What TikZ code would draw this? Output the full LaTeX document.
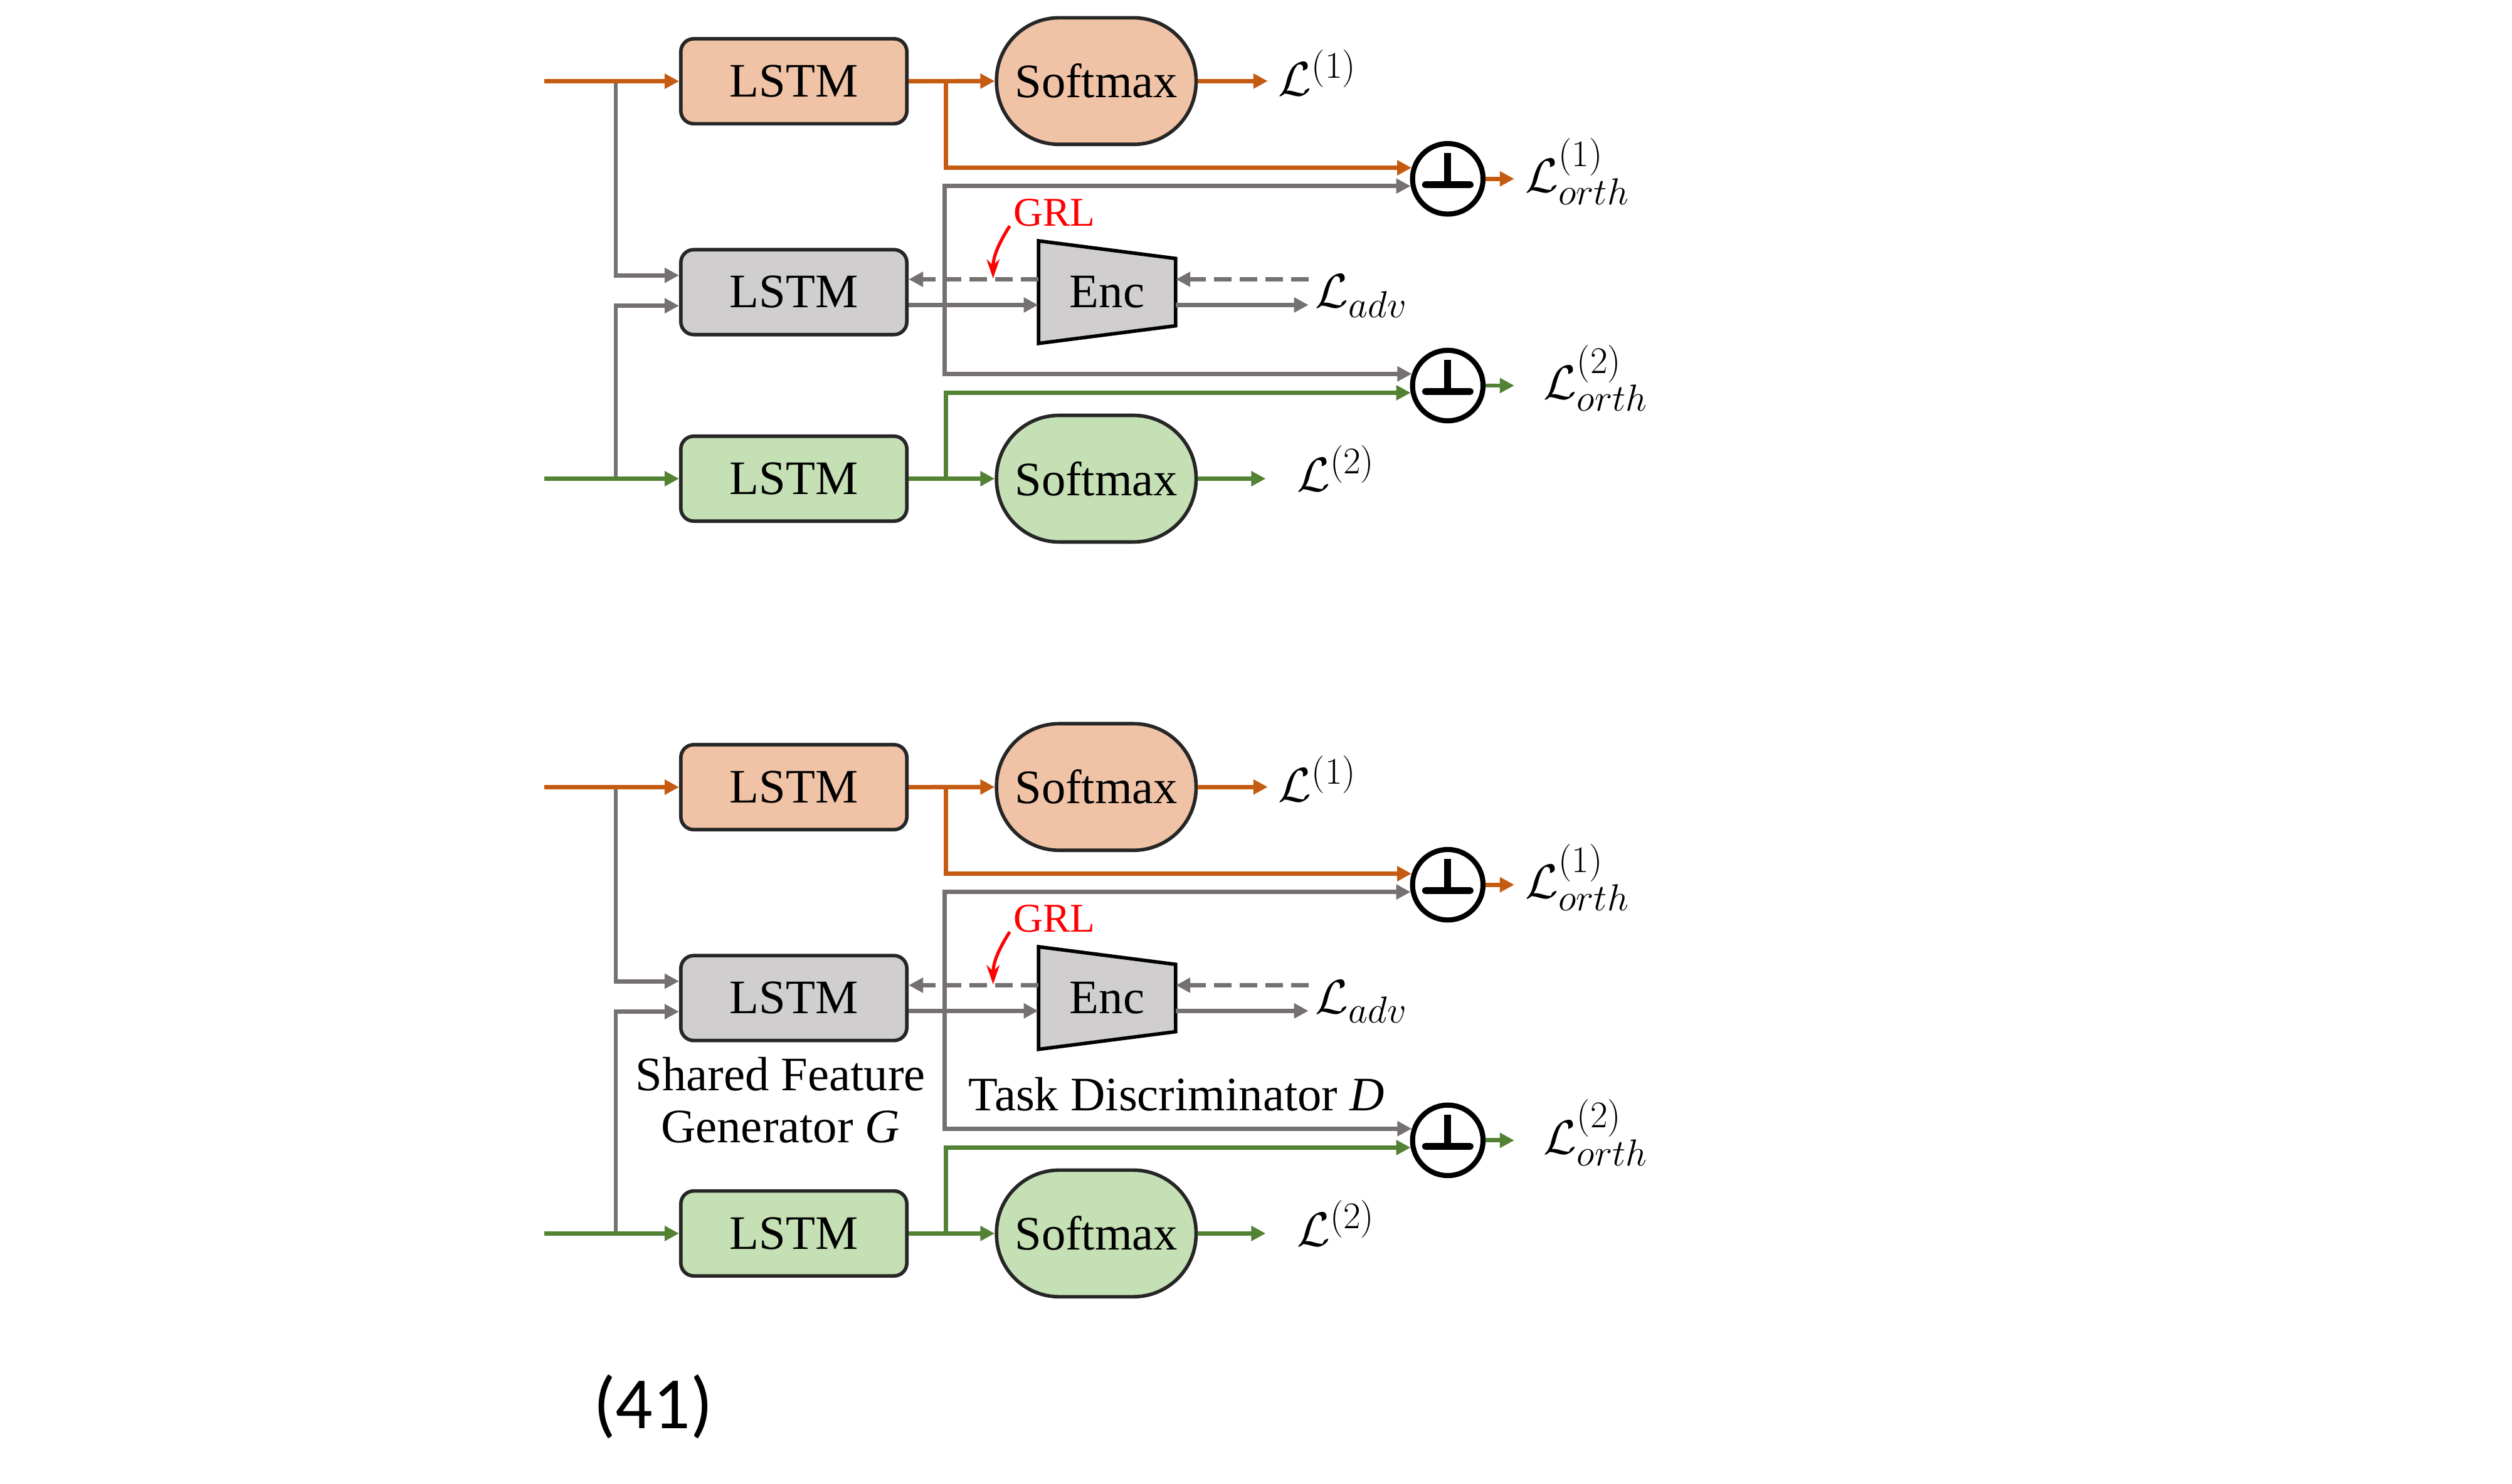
\RequirePackage{fix-cm}
\documentclass[tikz,border=0pt]{standalone}
\usepackage{fontspec}
\setmainfont{Liberation Serif}
\newfontfamily\calib{Carlito}
\usetikzlibrary{arrows.meta,calc}
\DeclareMathSizes{30}{30}{23.5}{17}
\newcommand{\fsz}[1]{\fontsize{#1}{#1}\selectfont}
\definecolor{orL}{HTML}{C55A11}
\definecolor{orF}{HTML}{F0C3A7}
\definecolor{grL}{HTML}{767171}
\definecolor{grF}{HTML}{D0CECE}
\definecolor{gnL}{HTML}{548235}
\definecolor{gnF}{HTML}{C5E0B4}
\definecolor{bd}{HTML}{262626}
\tikzset{
  lstmbox/.style={draw=bd, line width=2.2pt, rounded corners=8pt, minimum width=141pt, minimum height=53pt, inner sep=0pt, font=\fsz{30}},
  smbox/.style={draw=bd, line width=2.2pt, rounded corners=39pt, minimum width=124.5pt, minimum height=79pt, inner sep=0pt, font=\fsz{30}},
  perpn/.style={circle, draw=black, line width=3.2pt, minimum size=44pt, inner sep=0pt,
    path picture={
      \draw[line width=4.2pt, line cap=round] ([xshift=-14pt,yshift=-3.7pt]path picture bounding box.center) -- ([xshift=14pt,yshift=-3.7pt]path picture bounding box.center);
      \draw[line width=4.2pt] ([yshift=16pt]path picture bounding box.center) -- ([yshift=-3.7pt]path picture bounding box.center);
    }},
  encn/.style={minimum width=85.5pt, minimum height=64pt, inner sep=0pt, font=\fsz{30}},
  encpoly/.style={draw=black, fill=grF, line width=2.2pt},
  arr/.style={-{Triangle[length=9pt,width=9pt]}},
  orl/.style={draw=orL, line width=2.7pt},
  grl/.style={draw=grL, line width=2.7pt},
  gnl/.style={draw=gnL, line width=2.7pt},
  dsh/.style={dash pattern=on 11pt off 5pt},
  lab/.style={anchor=base west, inner sep=0pt, font=\fsz{30}},
  grlab/.style={text=red, inner sep=0pt, font=\fsz{25.5}},
}
\begin{document}
\begin{tikzpicture}[x=1pt,y=-1pt]
\useasboundingbox (0,0) rectangle (1567.3,926);
\foreach \s/\du/\dl in {a/0/0, b/440.5/471}{
  % nodes
  \node[lstmbox, fill=orF] (lstmo\s) at (495.3, 50.7+\du) {LSTM};
  \node[smbox, fill=orF] (smo\s) at (684, 50.6+\du) {Softmax};
  \node[perpn] (pa\s) at (903.3, 111.6+\du) {};
  \node[lstmbox, fill=grF] (lstms\s) at (495.3, 182.3+\du) {LSTM};
  \coordinate (ec\s) at (690.7, 182.3+\du);
  \draw[encpoly] ($(ec\s)+(-42.7,-32)$) -- ($(ec\s)+(42.8,-21)$) -- ($(ec\s)+(42.8,21)$) -- ($(ec\s)+(-42.7,32)$) -- cycle;
  \node[encn] (enc\s) at (ec\s) {Enc};
  \node[perpn] (pb\s) at (903.3, 240.6+\dl) {};
  \node[lstmbox, fill=gnF] (lstmg\s) at (495.3, 298.7+\dl) {LSTM};
  \node[smbox, fill=gnF] (smg\s) at (684, 298.7+\dl) {Softmax};
  % coordinates
  \coordinate (ino\s) at (339.7, 50.7+\du);
  \coordinate (ing\s) at (339.7, 298.7+\dl);
  \coordinate (jo\s) at (384.2, 50.7+\du);
  \coordinate (jg\s) at (384.2, 298.7+\dl);
  \coordinate (bo\s) at (590.3, 50.7+\du);
  \coordinate (bg\s) at (589.5, 190.3+\du);
  \coordinate (bgn\s) at (590.3, 298.7+\dl);
  \coordinate (lo\s) at (791, 50.6+\du);
  \coordinate (lg\s) at (789.7, 298.7+\dl);
  \coordinate (ad\s) at (816.4, 174.3+\du);
  \coordinate (ae\s) at (816.4, 190.3+\du);
  \coordinate (oa\s) at (944.8, 111.6+\du);
  \coordinate (ob\s) at (944.8, 240.6+\dl);
  \coordinate (grs\s) at (630, 141+\du);
  \coordinate (gre\s) at (619.6, 173.8+\du);
  % gray connectors
  \draw[grl, arr] (jo\s) |- ($(lstms\s.west)+(0,-10.5)$);
  \draw[grl, arr] (jg\s) |- ($(lstms\s.west)+(0,8.5)$);
  \draw[grl, arr] ($(lstms\s.east)+(0,8)$) -- ($(enc\s.west)+(0,8)$);
  \draw[grl, arr] (bg\s) |- (pa\s.191);
  \draw[grl, arr] (bg\s) |- (pb\s.162);
  \draw[grl, dsh, arr] ($(enc\s.west)+(0,-8)$) -- ($(lstms\s.east)+(0,-8)$);
  \draw[grl, dsh, arr] (ad\s) -- ($(enc\s.east)+(0,-8)$);
  \draw[grl, arr] ($(enc\s.east)+(0,8)$) -- (ae\s);
  % orange connectors
  \draw[orl, arr] (ino\s) -- (lstmo\s.west);
  \draw[orl, arr] (lstmo\s.east) -- (smo\s.west);
  \draw[orl, arr] (bo\s) |- (pa\s.163);
  \draw[orl, arr] (smo\s.east) -- (lo\s);
  \draw[orl, arr] (pa\s.east) -- (oa\s);
  % green connectors
  \draw[gnl, arr] (ing\s) -- (lstmg\s.west);
  \draw[gnl, arr] (lstmg\s.east) -- (smg\s.west);
  \draw[gnl, arr] (bgn\s) |- (pb\s.191);
  \draw[gnl, arr] (smg\s.east) -- (lg\s);
  \draw[gnl, arr] (pb\s.east) -- (ob\s);
  % GRL
  \node[grlab] (grl\s) at (657.8, 132.6+\du) {GRL};
  \draw[red, line width=2pt, -{Stealth[length=12pt,width=8pt]}] (grs\s) .. controls (623,152+\du) and (619.6,160+\du) .. (gre\s);
  % loss labels
  \node[lab] (L1\s) at (797.5, 59.5+\du) {$\mathcal{L}^{(1)}$};
  \node[lab] (L2\s) at (809, 306.5+\dl) {$\mathcal{L}^{(2)}$};
  \node[lab] (Ladv\s) at (820.5, 192+\du) {$\mathcal{L}_{adv}$};
  \node[lab] (Lo1\s) at (951.5, 120+\du) {$\mathcal{L}^{(1)}_{orth}$};
  \node[lab] (Lo2\s) at (963, 249+\dl) {$\mathcal{L}^{(2)}_{orth}$};
}
\node[align=center, inner sep=0pt, font=\fontsize{30}{32.3}\selectfont] (sfg) at (487,686.5) {Shared Feature\\Generator \textit{G}};
\node[anchor=base, inner sep=0pt, font=\fsz{30}] (tdd) at (734,693.2) {Task Discriminator \textit{D}};
\node[anchor=base, inner sep=0pt, font=\calib\fsz{46}] (num) at (407.5,891.6) {(41)};
\end{tikzpicture}
\end{document}
